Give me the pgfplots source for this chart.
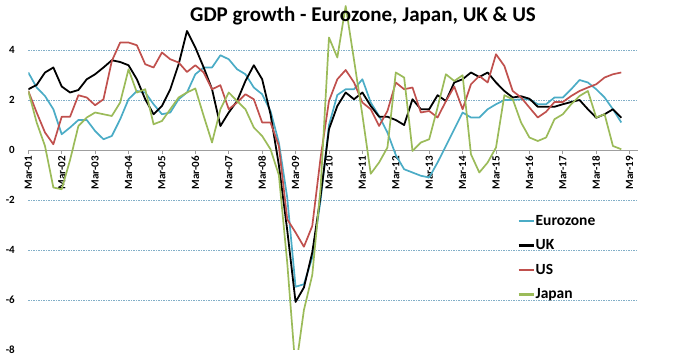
\documentclass[border=0pt]{standalone}
\usepackage{pgfplots}
\pgfplotsset{compat=1.18}
\usepackage{pgfplotstable}
\usepackage{fontspec}
\setmainfont{Carlito}
\definecolor{ezc}{RGB}{75,172,198}
\definecolor{usc}{RGB}{192,80,77}
\definecolor{jpc}{RGB}{155,187,89}
\definecolor{gridc}{RGB}{130,175,200}
\pgfplotstableread{
i ez uk us jp
0 3.1 2.43 2.36 2.36
1 2.5 2.6 1.5 1.1
2 2.16 3.1 0.7 0.16
3 1.63 3.3 0.23 -1.5
4 0.63 2.54 1.33 -1.57
5 0.9 2.3 1.33 -0.4
6 1.2 2.4 2.19 0.96
7 1.2 2.83 2.1 1.3
8 0.76 3.03 1.79 1.5
9 0.43 3.3 2.03 1.43
10 0.56 3.59 3.56 1.36
11 1.23 3.52 4.3 1.9
12 2.03 3.39 4.3 3.23
13 2.36 2.83 4.19 2.3
14 2.3 2.03 3.43 2.43
15 1.83 1.43 3.3 1.03
16 1.43 1.76 3.9 1.16
17 1.5 2.43 3.63 1.63
18 2.03 3.43 3.5 2.1
19 2.3 4.76 3.12 2.3
20 3.03 4.1 3.39 2.46
21 3.3 3.3 3.1 1.36
22 3.3 2.43 2.43 0.3
23 3.79 0.96 2.59 1.63
24 3.63 1.5 1.63 2.3
25 3.23 1.96 1.9 1.96
26 3.03 2.76 2.23 1.63
27 2.5 3.39 2.03 0.9
28 2.23 2.83 1.1 0.56
29 1.56 1.43 1.1 0.03
30 0.3 -0.6 0.16 -1.0
31 -1.9 -3.2 -2.77 -4.5
32 -5.47 -6.08 -3.3 -8.8
33 -5.37 -5.5 -3.87 -6.4
34 -4.3 -4.1 -3.04 -5.0
35 -2.0 -1.84 -0.3 -1.5
36 1.0 0.83 1.96 4.5
37 2.2 1.76 2.83 3.7
38 2.43 2.3 3.2 5.76
39 2.43 2.03 2.7 3.6
40 2.83 2.3 1.9 1.4
41 1.9 1.76 1.63 -0.95
42 1.36 1.33 0.96 -0.5
43 0.7 1.33 1.56 0.1
44 -0.2 1.2 2.7 3.1
45 -0.77 1.0 2.43 2.9
46 -0.9 2.03 2.5 -0.04
47 -1.03 1.63 1.5 0.3
48 -1.1 1.63 1.56 0.43
49 -0.5 2.19 1.3 1.7
50 0.16 1.96 1.95 3.03
51 0.83 2.7 2.54 2.76
52 1.5 2.83 1.63 2.99
53 1.3 3.1 2.63 -0.17
54 1.3 2.92 2.96 -0.9
55 1.63 3.1 2.7 -0.5
56 1.83 2.7 3.83 0.1
57 2.0 2.36 3.36 2.19
58 2.0 2.1 2.36 2.03
59 2.03 2.15 2.1 1.1
60 2.03 2.05 1.7 0.5
61 1.83 1.73 1.3 0.36
62 1.83 1.73 1.53 0.5
63 2.1 1.73 1.92 1.23
64 2.1 1.83 1.92 1.43
65 2.43 1.92 2.16 1.83
66 2.8 2.0 2.36 2.16
67 2.7 1.63 2.5 2.36
68 2.43 1.29 2.63 1.3
69 2.1 1.43 2.9 1.43
70 1.63 1.63 3.03 0.16
71 1.1 1.29 3.1 0.03
}\gdp
\begin{document}
\begin{tikzpicture}
\useasboundingbox (-28.3pt,-6pt) rectangle (644.7pt,350pt);
\begin{axis}[
  at={(0pt,0pt)}, anchor=south west,
  scale only axis, width=609.7pt, height=350pt,
  xmin=0, xmax=73, ymin=-8, ymax=6,
  axis x line*=middle, axis y line*=left,
  hide obscured x ticks=false, hide obscured y ticks=false,
  y axis line style={draw=none},
  x axis line style={draw=gray!75, line width=0.8pt},
  xtick={0,4,...,72},
  xticklabels={Mar-01,Mar-02,Mar-03,Mar-04,Mar-05,Mar-06,Mar-07,Mar-08,Mar-09,Mar-10,Mar-11,Mar-12,Mar-13,Mar-14,Mar-15,Mar-16,Mar-17,Mar-18,Mar-19},
  ytick={-8,-6,-4,-2,0,2,4},
  yticklabels={-8,-6,-4,-2,0,2,4},
  tick align=outside,
  xtick style={draw=gray!75, line width=0.8pt},
  ytick style={draw=none},
  major tick length=4pt,
  extra y ticks={-6,-4,-2,2,4},
  extra y tick labels={},
  extra y tick style={grid=major, major grid style={dash pattern=on 1.5pt off 1pt, color=gridc, line width=0.7pt}, tick style={draw=none}},
  ticklabel style={font=\bfseries\fontsize{11}{11}\selectfont},
  xticklabel style={rotate=90, anchor=east, inner sep=2pt},
  yticklabel style={xshift=-6pt},
  legend style={at={(0.797,0.397)}, anchor=north west, draw=none, fill=none,
    font=\bfseries\fontsize{15.5}{15.5}\selectfont, row sep=8pt,
    nodes={inner sep=1pt, text height=11pt, text depth=3.5pt}},
  legend cell align=left,
  legend image code/.code={\draw[#1, line width=2.2pt] (0pt,0.5pt) -- (15pt,0.5pt);},
  every axis plot/.append style={line join=round, no markers},
]
\addplot[ezc, line width=1.7pt] table[x=i, y=ez] {\gdp};
\addlegendentry{Eurozone}
\addplot[black, line width=1.8pt] table[x=i, y=uk] {\gdp};
\addlegendentry{UK}
\addplot[usc, line width=1.7pt] table[x=i, y=us] {\gdp};
\addlegendentry{US}
\addplot[jpc, line width=1.7pt] table[x=i, y=jp] {\gdp};
\addlegendentry{Japan}
\end{axis}
\node[font=\bfseries\fontsize{21}{21}\selectfont] at (334.7pt,334pt) {GDP growth - Eurozone, Japan, UK \& US};
\end{tikzpicture}
\end{document}
